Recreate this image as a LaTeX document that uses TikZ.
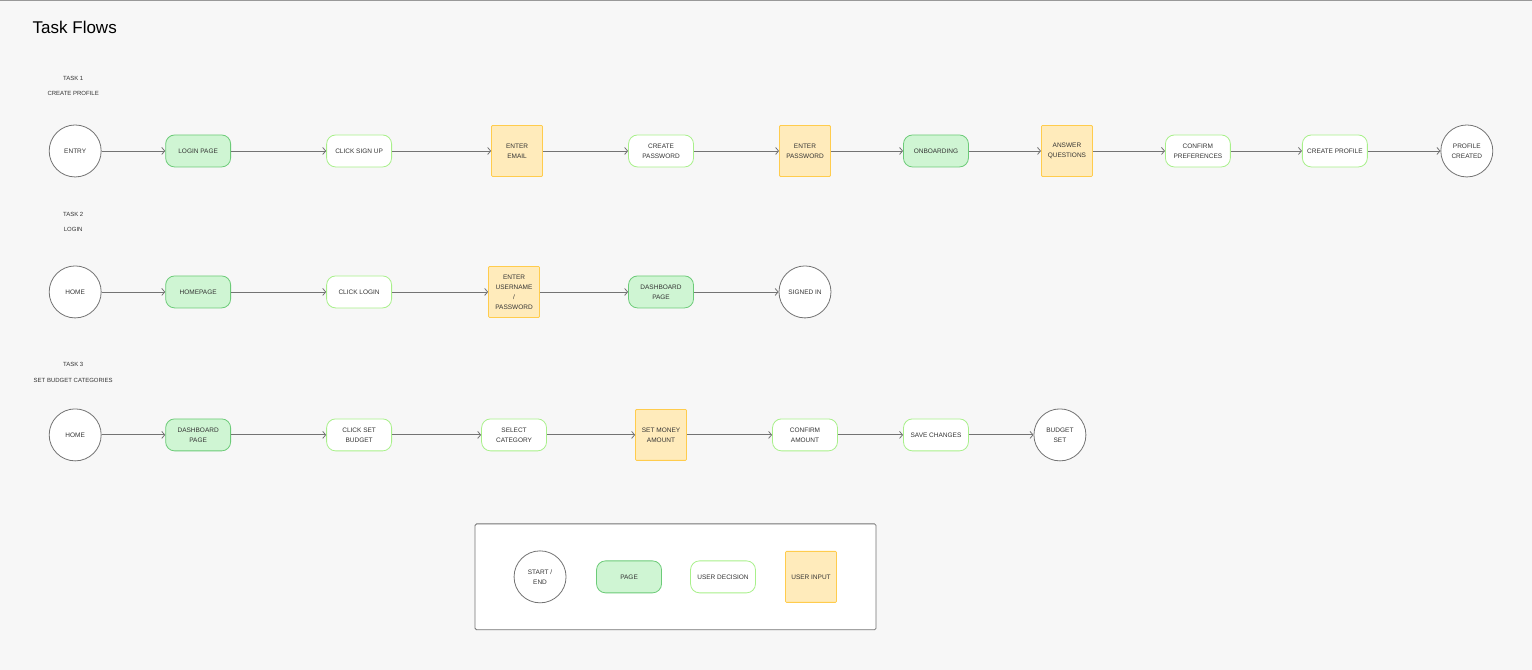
\documentclass[tikz,border=0pt]{standalone}
\usepackage{fontspec}
\setmainfont{Liberation Sans}
\usetikzlibrary{arrows.meta}
\definecolor{bg}{HTML}{F7F7F7}
\definecolor{pagefill}{HTML}{CFF5D3}
\definecolor{pagedraw}{HTML}{6CCB78}
\definecolor{decdraw}{HTML}{A8F08A}
\definecolor{infill}{HTML}{FFEBBB}
\definecolor{indraw}{HTML}{FFCC4D}
\tikzset{
 x=1pt,y=-1pt,
 every node/.style={font=\fontsize{6.5}{10}\selectfont, text=black!80, align=center},
 se/.style={circle, draw=black!55, fill=white, minimum size=52pt, inner sep=0pt, line width=0.8pt},
 pg/.style={rounded corners=9pt, draw=pagedraw, fill=pagefill, minimum width=65pt, minimum height=32pt, inner sep=1pt, line width=0.8pt},
 dec/.style={rounded corners=9pt, draw=decdraw, fill=white, minimum width=65pt, minimum height=32pt, inner sep=1pt, line width=0.8pt},
 inp/.style={rounded corners=1pt, draw=indraw, fill=infill, minimum width=51pt, minimum height=51pt, inner sep=1pt, line width=0.8pt},
 ar/.style={draw=black!55, line width=0.8pt, -{Straight Barb[length=3pt,width=7pt]}},
 lbl/.style={font=\fontsize{6}{8}\selectfont}
}
\begin{document}
\begin{tikzpicture}
\fill[bg] (0,0) rectangle (1532,670);
\draw[black!40] (0,0.5) -- (1532,0.5);
\node[anchor=west, font=\fontsize{17}{20}\selectfont, text=black] (title) at (29,27) {Task Flows};
\node[lbl] (t1a) at (73,78) {TASK 1};
\node[lbl] (t1b) at (73,93) {CREATE PROFILE};
\node[lbl] (t2a) at (73,214) {TASK 2};
\node[lbl] (t2b) at (73,229) {LOGIN};
\node[lbl] (t3a) at (73,365) {TASK 3};
\node[lbl] (t3b) at (73,381) {SET BUDGET CATEGORIES};
% row 1
\node[se] (a1) at (75,151) {ENTRY};
\node[pg] (a2) at (198,151) {LOGIN PAGE};
\node[dec] (a3) at (359,151) {CLICK SIGN UP};
\node[inp] (a4) at (517,151) {ENTER\\EMAIL};
\node[dec] (a5) at (661,151) {CREATE\\PASSWORD};
\node[inp] (a6) at (805,151) {ENTER\\PASSWORD};
\node[pg] (a7) at (936,151) {ONBOARDING};
\node[inp] (a8) at (1067,151) {ANSWER\\QUESTIONS};
\node[dec] (a9) at (1198,151) {CONFIRM\\PREFERENCES};
\node[dec] (a10) at (1335,151) {CREATE PROFILE};
\node[se] (a11) at (1467,151) {PROFILE\\CREATED};
\foreach \i/\j in {a1/a2,a2/a3,a3/a4,a4/a5,a5/a6,a6/a7,a7/a8,a8/a9,a9/a10,a10/a11}
  \draw[ar] (\i) -- (\j);
% row 2
\node[se] (b1) at (75,292) {HOME};
\node[pg] (b2) at (198,292) {HOMEPAGE};
\node[dec] (b3) at (359,292) {CLICK LOGIN};
\node[inp] (b4) at (514,292) {ENTER\\USERNAME\\/\\PASSWORD};
\node[pg] (b5) at (661,292) {DASHBOARD\\PAGE};
\node[se] (b6) at (805,292) {SIGNED IN};
\draw[ar] (b1.east) -- (b2.west);
\foreach \i/\j in {b2/b3,b3/b4,b4/b5,b5/b6}
  \draw[ar] (\i) -- (\j);
% row 3
\node[se] (c1) at (75,435) {HOME};
\node[pg] (c2) at (198,435) {DASHBOARD\\PAGE};
\node[dec] (c3) at (359,435) {CLICK SET\\BUDGET};
\node[dec] (c4) at (514,435) {SELECT\\CATEGORY};
\node[inp] (c5) at (661,435) {SET MONEY\\AMOUNT};
\node[dec] (c6) at (805,435) {CONFIRM\\AMOUNT};
\node[dec] (c7) at (936,435) {SAVE CHANGES};
\node[se] (c8) at (1060,435) {BUDGET\\SET};
\foreach \i/\j in {c1/c2,c2/c3,c3/c4,c4/c5,c5/c6,c6/c7,c7/c8}
  \draw[ar] (\i) -- (\j);
% legend
\node[draw=black!55, fill=white, line width=0.8pt, rounded corners=1.5pt, minimum width=401pt, minimum height=106pt] (leg) at (675.5,577) {};
\node[se] (l1) at (540,577) {START /\\END};
\node[pg] (l2) at (629,577) {PAGE};
\node[dec] (l3) at (723,577) {USER DECISION};
\node[inp] (l4) at (811,577) {USER INPUT};
\end{tikzpicture}
\end{document}
